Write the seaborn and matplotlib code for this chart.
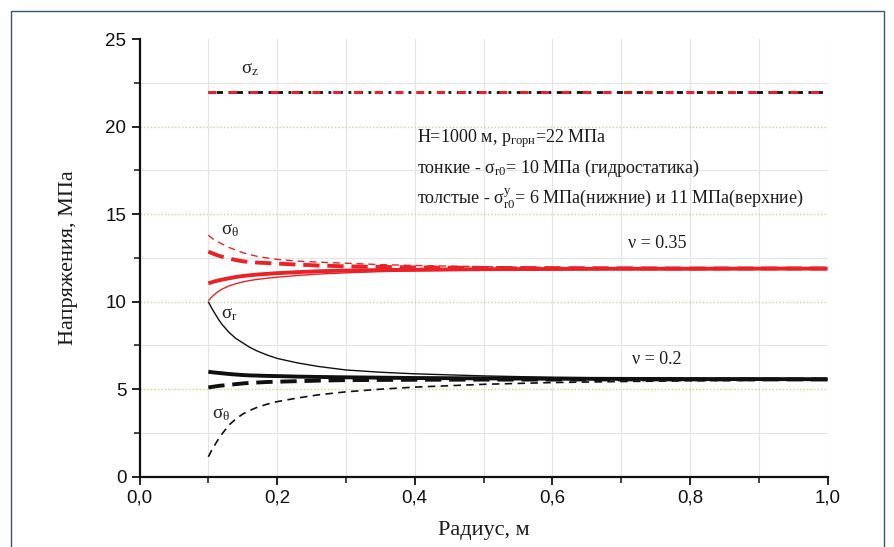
import matplotlib
matplotlib.use("Agg")
import matplotlib.pyplot as plt
import matplotlib.ticker as mticker
from matplotlib.patches import Rectangle
import seaborn as sns
import pandas as pd

# ---- data ----
radius = [0.10, 0.105, 0.11, 0.115, 0.12, 0.13, 0.14, 0.15, 0.16, 0.17, 0.185, 0.20, 0.23, 0.26,
          0.30, 0.35, 0.40, 0.50, 0.60, 0.70, 0.80, 0.90, 1.00]

# nu = 0.2 (black)
sr_hydro_02 = [10.0, 9.62, 9.3, 8.98, 8.7, 8.25, 7.9, 7.65, 7.4, 7.2, 6.96, 6.76, 6.5, 6.3,
               6.1, 5.97, 5.88, 5.76, 5.68, 5.64, 5.61, 5.59, 5.58]
st_hydro_02 = [1.14, 1.52, 1.85, 2.17, 2.45, 2.95, 3.3, 3.58, 3.78, 3.95, 4.14, 4.29, 4.5, 4.68,
               4.85, 5.0, 5.12, 5.28, 5.38, 5.44, 5.48, 5.51, 5.53]
sr_thick_02 = [6.0, 5.97, 5.95, 5.93, 5.91, 5.87, 5.84, 5.81, 5.79, 5.78, 5.76, 5.75, 5.72, 5.7,
               5.68, 5.66, 5.64, 5.62, 5.6, 5.59, 5.58, 5.58, 5.57]
st_thick_02 = [5.1, 5.13, 5.16, 5.19, 5.21, 5.25, 5.29, 5.33, 5.36, 5.38, 5.41, 5.43, 5.46, 5.49,
               5.52, 5.53, 5.54, 5.55, 5.55, 5.56, 5.56, 5.56, 5.56]

# nu = 0.35 (red)
sr_hydro_035 = [10.05, 10.27, 10.45, 10.6, 10.72, 10.9, 11.03, 11.13, 11.21, 11.27, 11.34, 11.4, 11.5, 11.58,
                11.65, 11.72, 11.76, 11.81, 11.84, 11.86, 11.87, 11.88, 11.88]
st_hydro_035 = [13.8, 13.64, 13.5, 13.4, 13.3, 13.1, 12.95, 12.8, 12.7, 12.6, 12.5, 12.42, 12.32, 12.26,
                12.2, 12.12, 12.07, 12.0, 11.96, 11.94, 11.93, 11.92, 11.92]
sr_thick_035 = [11.05, 11.11, 11.17, 11.22, 11.26, 11.34, 11.41, 11.47, 11.51, 11.55, 11.59, 11.63, 11.69, 11.74,
                11.78, 11.81, 11.83, 11.86, 11.87, 11.88, 11.88, 11.89, 11.89]
st_thick_035 = [12.86, 12.78, 12.7, 12.63, 12.57, 12.47, 12.38, 12.31, 12.27, 12.24, 12.21, 12.18, 12.12, 12.07,
                12.02, 11.99, 11.96, 11.93, 11.92, 11.91, 11.9, 11.9, 11.9]

# sigma_z
sz_radius = [0.10, 1.00]
sz_values = [22.0, 22.0]

x_ticks = [0.0, 0.2, 0.4, 0.6, 0.8, 1.0]
x_tick_labels = ["0,0", "0,2", "0,4", "0,6", "0,8", "1,0"]
y_ticks = [0, 5, 10, 15, 20, 25]

# ---- style ----
sns.set_style("white")
plt.rcParams["font.family"] = ["Liberation Serif", "DejaVu Serif"]
plt.rcParams["mathtext.fontset"] = "custom"
plt.rcParams["mathtext.rm"] = "Liberation Serif"
plt.rcParams["mathtext.it"] = "Liberation Serif:italic"
plt.rcParams["mathtext.default"] = "rm"

RED = "#ea2228"
BLACK = "#101010"

fig = plt.figure(figsize=(8.95, 5.47), dpi=100)
ax = fig.add_axes([0.1559, 0.1285, 0.9246 - 0.1559, 0.9283 - 0.1285])

def draw(y, color, lw, dashes=None):
    df = pd.DataFrame({"r": radius, "v": y})
    sns.lineplot(data=df, x="r", y="v", ax=ax, color=color, linewidth=lw,
                 sort=False, estimator=None)
    ln = ax.lines[-1]
    if dashes is not None:
        ln.set_dashes(dashes)
    ln.set_solid_capstyle("butt")
    ln.set_dash_capstyle("butt")
    ln.set_solid_joinstyle("round")

# sigma_z lines
dfz = pd.DataFrame({"r": sz_radius, "v": sz_values})
sns.lineplot(data=dfz, x="r", y="v", ax=ax, color=BLACK, linewidth=2.0, estimator=None)
ax.lines[-1].set_dashes([1.0, 2.0, 2.2, 2.0])
sns.lineplot(data=dfz, x="r", y="v", ax=ax, color=RED, linewidth=2.2, estimator=None)
ax.lines[-1].set_dashes([2.6, 4.2])
ax.lines[-1].set_dash_capstyle("butt")

# black (nu=0.2)
draw(sr_hydro_02, BLACK, 1.0)
draw(st_hydro_02, BLACK, 1.2, [4.5, 3.2])
draw(sr_thick_02, BLACK, 2.8)
draw(st_thick_02, BLACK, 2.8, [4.2, 2.0])

# red (nu=0.35)
draw(sr_hydro_035, RED, 1.0)
draw(st_hydro_035, RED, 1.0, [5.0, 3.5])
draw(sr_thick_035, RED, 2.8)
draw(st_thick_035, RED, 2.8, [4.2, 2.0])

# axes
ax.set_xlim(0.0, 1.0)
ax.set_ylim(0, 25)
ax.xaxis.set_major_locator(mticker.FixedLocator(x_ticks))
ax.set_xticklabels(x_tick_labels)
ax.xaxis.set_minor_locator(mticker.MultipleLocator(0.1))
ax.yaxis.set_major_locator(mticker.FixedLocator(y_ticks))
ax.yaxis.set_minor_locator(mticker.MultipleLocator(2.5))

for s in ["top", "right"]:
    ax.spines[s].set_visible(False)
for s in ["left", "bottom"]:
    ax.spines[s].set_linewidth(1.6)
    ax.spines[s].set_color("#111111")

ax.tick_params(axis="both", which="major", direction="out", length=6, width=1.3,
               color="#111111", labelsize=13.5, labelcolor="#111111",
               bottom=True, left=True)
ax.tick_params(axis="both", which="minor", direction="out", length=4, width=1.1,
               color="#111111", bottom=True, left=True)
for lab in ax.get_xticklabels() + ax.get_yticklabels():
    lab.set_family(["Liberation Sans Narrow", "Liberation Sans", "DejaVu Sans"])

# grids
ax.grid(False)
ax.xaxis.grid(True, which="both", color="#e4e4e4", linewidth=0.8, linestyle="-")
ax.yaxis.grid(True, which="minor", color="#e4e4e4", linewidth=0.8, linestyle="-")
ax.yaxis.grid(True, which="major", color="#c9d49a", linewidth=1.0, linestyle=(0, (1, 1.5)))
ax.set_axisbelow(True)
fig.canvas.draw()
ygl = ax.yaxis.get_gridlines()
if len(ygl):
    ygl[-1].set_visible(False)

ax.set_xlabel("Радиус, м", fontsize=16, color="#1a1a1a", labelpad=10)
ax.set_ylabel("Напряжения, МПа", fontsize=16, color="#1a1a1a", labelpad=20)

# annotations (data coordinates)
tkw = dict(fontsize=13, color="#1a1a1a")
ax.text(0.404, 19.3, r"H=1000 м, p$_{\mathrm{горн}}$=22 МПа", ha="left", va="center", **tkw)
ax.text(0.404, 17.6, r"тонкие - σ$_{\mathrm{r0}}$= 10 МПа (гидростатика)", ha="left", va="center", **tkw)
ax.text(0.404, 15.95, r"толстые - σ$_{\mathrm{r0}}^{\mathrm{у}}$= 6 МПа(нижние) и 11 МПа(верхние)",
        ha="left", va="center", **tkw)
ax.text(0.752, 13.3, "ν = 0.35", ha="center", va="center", **tkw)
ax.text(0.752, 6.7, "ν = 0.2", ha="center", va="center", **tkw)

lkw = dict(fontsize=13.5, color="#222222", ha="center", va="center")
ax.text(0.161, 23.3, r"σ$_{\mathrm{z}}$", **lkw)
ax.text(0.131, 14.1, r"σ$_{\mathrm{θ}}$", **lkw)
ax.text(0.131, 9.3, r"σ$_{\mathrm{r}}$", **lkw)
ax.text(0.119, 3.6, r"σ$_{\mathrm{θ}}$", **lkw)

# figure frame
fig.add_artist(Rectangle((11 / 895, -0.05), (884 - 11) / 895, (1 - 11 / 547) + 0.05,
                         transform=fig.transFigure, fill=False,
                         edgecolor="#3a5572", linewidth=1.0, clip_on=False))

fig.savefig("out.png", dpi=100)
